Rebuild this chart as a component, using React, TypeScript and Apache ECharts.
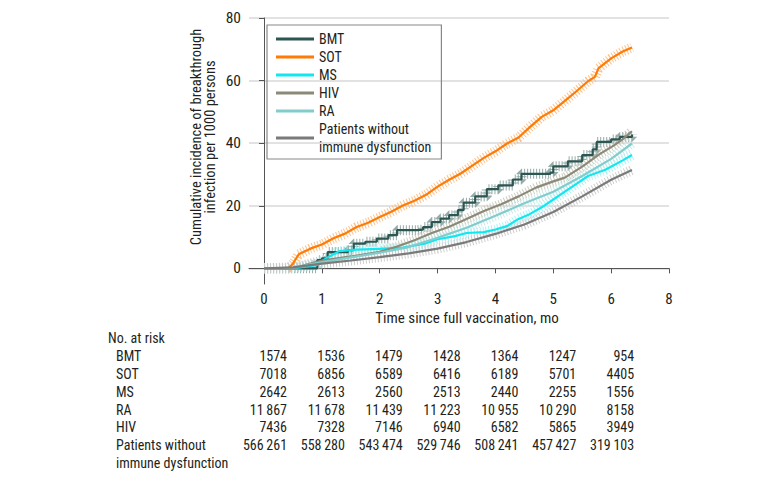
import React, { useEffect, useRef } from "react";
import * as echarts from "echarts";

// ---- Data ----
const xTickValues = [0, 1, 2, 3, 4, 5, 6, 7];
const xTickLabels = ["0", "1", "2", "3", "4", "5", "6", "8"];
const yTickValues = [0, 20, 40, 60, 80];

const seriesNames = ["BMT", "SOT", "MS", "HIV", "RA", "Patients without\nimmune dysfunction"];

const bmt = [
  [0, 0], [0.85, 0], [0.92, 2.6], [1.0, 3.2], [1.1, 5.2], [1.45, 5.8], [1.55, 7.9], [1.75, 8.5],
  [1.95, 9.5], [2.15, 10.6], [2.3, 12.2], [2.65, 12.4], [2.75, 13.2], [2.9, 14.8], [3.05, 15.9],
  [3.2, 17.0], [3.35, 18.6], [3.45, 21.0], [3.65, 23.0], [3.85, 25.3], [4.05, 26.5], [4.3, 28.4],
  [4.45, 30.2], [4.95, 30.6], [5.0, 32.6], [5.25, 34.2], [5.5, 36.2], [5.68, 38.0], [5.75, 40.4],
  [6.0, 41.2], [6.15, 42.0], [6.36, 42.8],
];
const sot = [
  [0, 0], [0.42, 0], [0.5, 1.5], [0.6, 4.5], [0.8, 6.3], [1.0, 7.6], [1.2, 9.6], [1.4, 11.1],
  [1.6, 13.2], [1.8, 14.6], [2.0, 16.4], [2.2, 18.1], [2.4, 20.1], [2.6, 21.6], [2.8, 23.5],
  [3.0, 26.1], [3.2, 28.3], [3.4, 30.3], [3.6, 32.8], [3.8, 35.3], [4.0, 37.4], [4.2, 39.9],
  [4.4, 41.8], [4.6, 45.2], [4.8, 48.4], [5.0, 50.5], [5.2, 53.5], [5.4, 56.6], [5.6, 59.8],
  [5.72, 61.2], [5.78, 63.9], [6.0, 67.1], [6.2, 69.3], [6.36, 70.6],
];
const ms = [
  [0, 0], [0.5, 0], [0.9, 1.0], [1.1, 3.5], [1.3, 5.5], [1.6, 6.0], [2.0, 6.2], [2.4, 6.6],
  [2.8, 8.0], [3.0, 9.3], [3.3, 10.3], [3.5, 11.3], [3.8, 11.6], [4.0, 12.4], [4.2, 13.5],
  [4.4, 15.8], [4.6, 17.4], [4.8, 19.5], [5.0, 22.0], [5.2, 24.5], [5.4, 27.0], [5.6, 29.5],
  [5.9, 31.5], [6.2, 34.5], [6.36, 36.2],
];
const hiv = [
  [0, 0], [0.5, 0], [0.8, 1.5], [1.0, 2.5], [1.5, 3.8], [2.0, 5.3], [2.3, 7.0], [2.6, 9.0],
  [2.9, 11.3], [3.2, 13.3], [3.5, 15.8], [3.8, 18.3], [4.1, 20.5], [4.4, 23.0], [4.7, 25.8],
  [5.0, 27.8], [5.2, 29.0], [5.5, 32.5], [5.8, 36.5], [6.05, 39.3], [6.2, 41.3], [6.36, 43.8],
];
const ra = [
  [0, 0], [0.5, 0.2], [1.0, 2.0], [1.5, 3.5], [2.0, 5.0], [2.5, 6.8], [3.0, 9.8], [3.5, 13.0],
  [4.0, 16.8], [4.5, 20.8], [5.0, 24.5], [5.5, 29.5], [6.0, 35.0], [6.36, 39.9],
];
const noDysfunction = [
  [0, 0], [0.5, 0.3], [1.0, 1.5], [1.5, 2.5], [2.0, 3.6], [2.5, 4.8], [3.0, 6.3], [3.5, 8.4],
  [4.0, 11.0], [4.5, 14.0], [5.0, 18.0], [5.5, 23.0], [6.0, 28.3], [6.36, 31.4],
];

const atRiskTimes = [0, 1, 2, 3, 4, 5, 6];
const atRiskLabels = ["BMT", "SOT", "MS", "RA", "HIV", "Patients without", "immune dysfunction"];
const atRiskBMT = [1574, 1536, 1479, 1428, 1364, 1247, 954];
const atRiskSOT = [7018, 6856, 6589, 6416, 6189, 5701, 4405];
const atRiskMS = [2642, 2613, 2560, 2513, 2440, 2255, 1556];
const atRiskRA = [11867, 11678, 11439, 11223, 10955, 10290, 8158];
const atRiskHIV = [7436, 7328, 7146, 6940, 6582, 5865, 3949];
const atRiskNone = [566261, 558280, 543474, 529746, 508241, 457427, 319103];

// ---- Styles ----
const FONT = "'Liberation Sans Narrow', 'Roboto Condensed', 'Liberation Sans', sans-serif";
const TEXT = "#231f20";
const groups = [
  { name: seriesNames[0], data: bmt, color: "#2c5652", band: "#8aa3a0", step: true },
  { name: seriesNames[1], data: sot, color: "#ff7b05", band: "#fcbb80", step: false },
  { name: seriesNames[2], data: ms, color: "#14e6f0", band: "#a3f1f5", step: false },
  { name: seriesNames[3], data: hiv, color: "#8b8a78", band: "#c6c5ba", step: false },
  { name: seriesNames[4], data: ra, color: "#82cccc", band: "#c4e7e7", step: false },
  { name: seriesNames[5], data: noDysfunction, color: "#7a7a7a", band: "#c8c8c8", step: false },
];

const fmt = (n: number) =>
  n >= 10000 ? String(n).replace(/\B(?=(\d{3})+(?!\d))/g, "\u2009") : String(n);

export default function App() {
  const ref = useRef<HTMLDivElement>(null);
  useEffect(() => {
    if (!ref.current) return;
    const chart = echarts.init(ref.current, null, { renderer: "svg" });

    const bandSeries = groups.map((g, i) => ({
      name: g.name + " band",
      type: "line",
      data: g.data,
      step: g.step ? "end" : false,
      symbol: "none",
      silent: true,
      z: 1,
      lineStyle: { color: g.band, width: 10, type: [1, 2], opacity: 0.9 },
      itemStyle: { color: g.band },
      markLine:
        i === 0
          ? {
              silent: true,
              symbol: "none",
              label: { show: false },
              lineStyle: { color: "#d9d9d9", width: 1.5, type: "solid" },
              data: yTickValues.map((v) => ({ yAxis: v })),
              z: 0,
            }
          : undefined,
    }));
    const mainSeries = groups.map((g) => ({
      name: g.name,
      type: "line",
      data: g.data,
      step: g.step ? "end" : false,
      symbol: "none",
      z: 3,
      lineStyle: { color: g.color, width: 2.2 },
      itemStyle: { color: g.color },
    }));

    chart.setOption({
      animation: false,
      backgroundColor: "#fff",
      grid: { left: 249, right: 111, top: 18, bottom: 195 },
      xAxis: {
        type: "value",
        min: -0.26,
        max: 7,
        axisLine: { lineStyle: { color: "#555", width: 1 } },
        axisTick: { show: true, length: 5, customValues: xTickValues, lineStyle: { color: "#555" } },
        axisLabel: {
          customValues: xTickValues,
          margin: 7,
          color: TEXT,
          fontFamily: FONT,
          fontSize: 15,
          formatter: (v: number) => xTickLabels[xTickValues.indexOf(v)] ?? "",
        },
        splitLine: { show: false },
      },
      yAxis: {
        type: "value",
        min: -5,
        max: 80,
        axisLine: { show: true, lineStyle: { color: "#555", width: 1 } },
        axisTick: { show: true, length: 5, customValues: yTickValues, lineStyle: { color: "#555" } },
        axisLabel: {
          customValues: yTickValues,
          margin: 8,
          color: TEXT,
          fontFamily: FONT,
          fontSize: 15.5,
        },
        splitLine: { show: false },
      },
      legend: {
        data: seriesNames,
        orient: "vertical",
        left: 267,
        top: 25,
        padding: [5, 10, 3, 9],
        itemGap: 0,
        itemWidth: 38,
        itemHeight: 3,
        icon: "rect",
        borderColor: "#888",
        borderWidth: 1.2,
        borderRadius: 0,
        textStyle: { color: TEXT, fontFamily: FONT, fontSize: 14, lineHeight: 18 },
      },
      series: [...bandSeries, ...mainSeries],
    });

    const colRight = atRiskTimes.map(
      (t) => (chart.convertToPixel({ xAxisIndex: 0 }, t) as number) + 23
    );
    const rowY = [356, 374, 392, 409.5, 427, 445, 463];
    const rows = [atRiskBMT, atRiskSOT, atRiskMS, atRiskRA, atRiskHIV, atRiskNone];
    const tStyle = (extra: any) => ({
      fill: TEXT,
      fontFamily: FONT,
      fontSize: 14,
      verticalAlign: "middle",
      ...extra,
    });
    const elements: any[] = [
      {
        type: "text",
        x: 203.5,
        y: 137,
        rotation: Math.PI / 2,
        style: tStyle({
          text: "Cumulative incidence of breakthrough\ninfection per 1000 persons",
          align: "center",
          fontSize: 14.5,
          lineHeight: 14.5,
        }),
      },
      {
        type: "text",
        x: 467,
        y: 318,
        style: tStyle({ text: "Time since full vaccination, mo", align: "center", fontSize: 15 }),
      },
      { type: "text", x: 108, y: 338, style: tStyle({ text: "No. at risk", align: "left" }) },
    ];
    atRiskLabels.forEach((lab, i) => {
      elements.push({ type: "text", x: 116, y: rowY[i], style: tStyle({ text: lab, align: "left" }) });
    });
    rows.forEach((row, r) => {
      row.forEach((n, c) => {
        elements.push({
          type: "text",
          x: colRight[c],
          y: rowY[r],
          style: tStyle({ text: fmt(n), align: "right" }),
        });
      });
    });
    chart.setOption({ graphic: { elements } });

    return () => chart.dispose();
  }, []);

  return (
    <div
      ref={ref}
      style={{ position: "fixed", left: 0, top: 0, width: 780, height: 479, background: "#fff" }}
    />
  );
}
